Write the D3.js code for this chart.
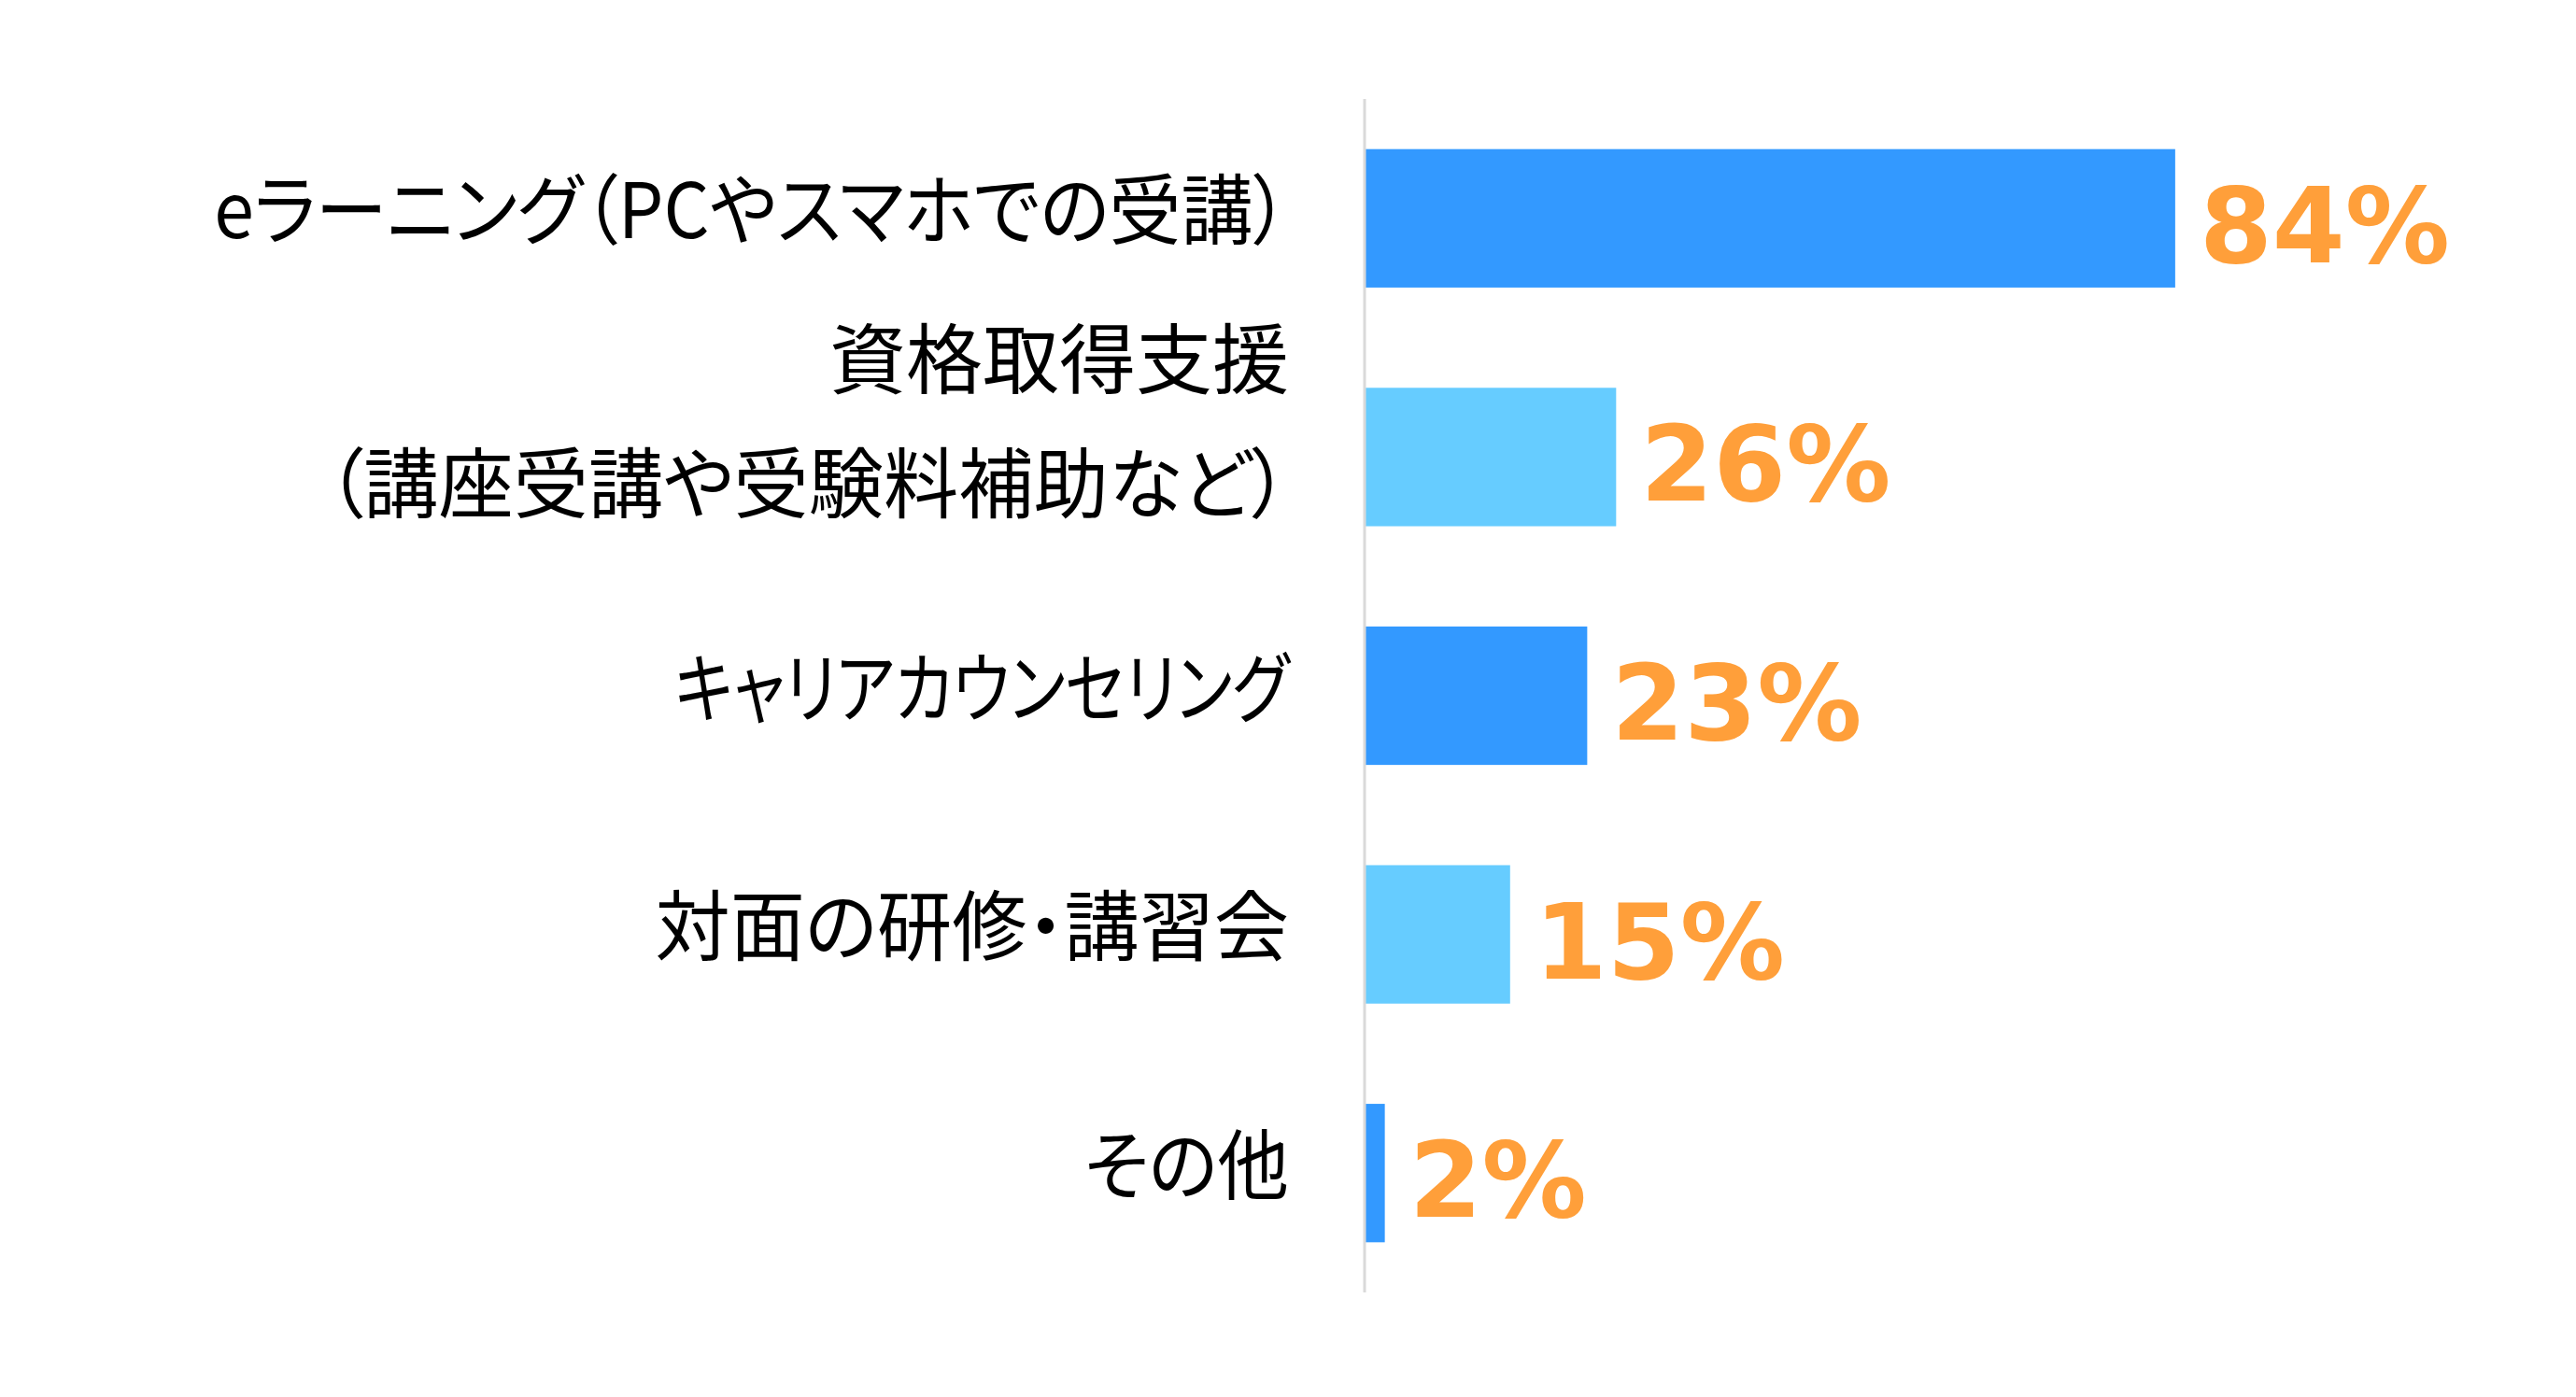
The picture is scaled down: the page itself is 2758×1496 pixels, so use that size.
<!DOCTYPE html>
<html>
<head>
<meta charset="utf-8">
<script src="https://cdn.jsdelivr.net/npm/d3@7"></script>
<style>
  body { margin: 0; background: #fff; }
  .cat { font-family: "Noto Sans CJK JP", sans-serif; font-size: 82px; fill: #000; font-feature-settings: "palt"; }
  .val { font-family: "DejaVu Sans", Verdana, sans-serif; font-weight: bold; font-size: 112px; fill: #FF9F3A; }
</style>
</head>
<body>
<div id="chart"></div>
<script>
// categories (each entry = lines of the label)
var categories = [
    ["eラーニング（PCやスマホでの受講）"],
    ["資格取得支援", "（講座受講や受験料補助など）"],
    ["キャリアカウンセリング"],
    ["対面の研修・講習会"],
    ["その他"]
];
var values = [84, 26, 23, 15, 2];
var barColors = ["#3399FF", "#66CCFF", "#3399FF", "#66CCFF", "#3399FF"];

var width = 2758, height = 1496;
var axisX = 1462;
var labelRight = 1380;

var svg = d3.select("#chart").append("svg")
    .attr("width", width)
    .attr("height", height);

var x = d3.scaleLinear()
    .domain([0, 100])
    .range([axisX, 2494]);

var y = d3.scaleBand()
    .domain(d3.range(categories.length))
    .range([106, 1384])
    .paddingInner(0.42)
    .paddingOuter(0.21);

// bars
svg.selectAll("rect.bar")
    .data(values)
    .enter()
    .append("rect")
    .attr("class", "bar")
    .attr("x", x(0))
    .attr("y", function(d, i) { return y(i); })
    .attr("width", function(d) { return x(d) - x(0); })
    .attr("height", y.bandwidth())
    .attr("fill", function(d, i) { return barColors[i]; });

// vertical axis line
svg.append("line")
    .attr("x1", axisX - 1).attr("x2", axisX - 1)
    .attr("y1", y.range()[0]).attr("y2", y.range()[1])
    .attr("stroke", "#D9D9D9")
    .attr("stroke-width", 3);

// value labels
svg.selectAll("text.val")
    .data(values)
    .enter()
    .append("text")
    .attr("class", "val")
    .attr("x", function(d) { return x(d) + 26; })
    .attr("y", function(d, i) { return y(i) + y.bandwidth() / 2 + 47; })
    .text(function(d) { return d + "%"; });

// original font has narrower kana than Noto, so squeeze lines by kana share
function squeeze(s) {
    if (/^[\u30A0-\u30FF]+$/.test(s)) return 0.82;
    var kana = (s.match(/[\u3040-\u30FF]/g) || []).length;
    return 1 - 0.1 * kana / s.length;
}

// category labels
svg.selectAll("g.cat")
    .data(categories)
    .enter()
    .append("g")
    .each(function(lines, i) {
        var cy = y(i) + y.bandwidth() / 2;
        var lineH = 133;
        var start = lines.length > 1 ? cy - 110 : cy - 14;
        d3.select(this).selectAll("text")
            .data(lines)
            .enter()
            .append("text")
            .attr("class", "cat")
            .attr("text-anchor", "end")
            .attr("dominant-baseline", "central")
            .attr("transform", function(d, j) {
                return "translate(" + labelRight + "," + (start + j * lineH) + ") scale(" + squeeze(d) + ",1)";
            })
            .text(function(d) { return d; });
    });
</script>
</body>
</html>
